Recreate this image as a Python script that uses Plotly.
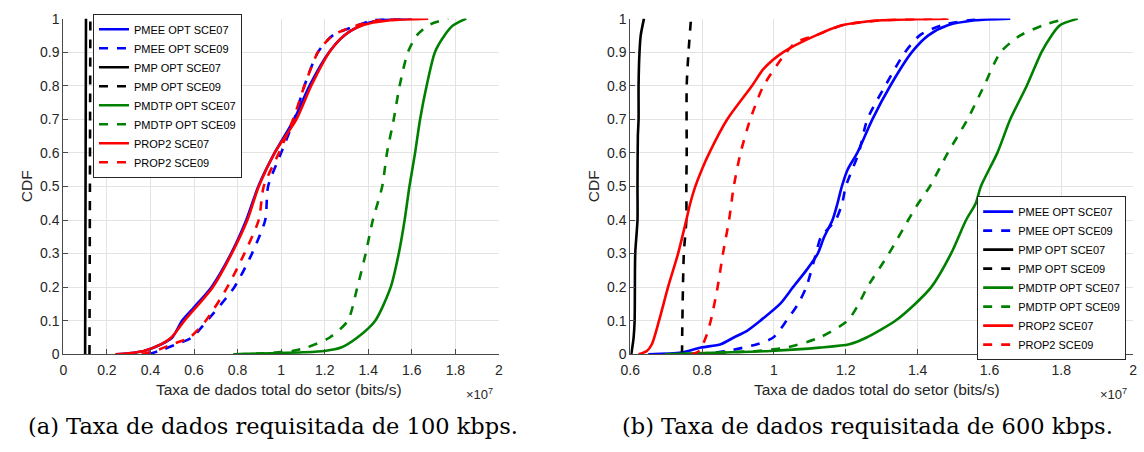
import plotly.graph_objects as go

# ---------------- data (x in units of 1e7 bits/s, y = CDF) ----------------
# (a) 100 kbps
a_pmee07_x = [0.24, 0.30, 0.37, 0.45, 0.50, 0.545, 0.60, 0.68, 0.77, 0.84, 0.895, 0.97, 1.06, 1.13, 1.22, 1.29, 1.37, 1.45, 1.60]
a_pmee07_y = [0.0, 0.003, 0.01, 0.03, 0.05, 0.10, 0.14, 0.20, 0.30, 0.40, 0.50, 0.60, 0.70, 0.80, 0.90, 0.95, 0.98, 0.995, 1.0]
a_pmee09_x = [0.39, 0.44, 0.52, 0.59, 0.66, 0.785, 0.866, 0.927, 0.94, 1.00, 1.06, 1.107, 1.169, 1.237, 1.35, 1.42, 1.55]
a_pmee09_y = [0.0, 0.01, 0.03, 0.05, 0.10, 0.20, 0.30, 0.40, 0.50, 0.60, 0.70, 0.80, 0.90, 0.95, 0.98, 0.995, 1.0]
a_pmp07_x = [0.100, 0.102, 0.104]
a_pmp07_y = [0.0, 0.5, 1.0]
a_pmp09_x = [0.120, 0.122, 0.124]
a_pmp09_y = [0.0, 0.5, 1.0]
a_pmdtp07_x = [0.78, 0.95, 1.10, 1.20, 1.275, 1.35, 1.432, 1.503, 1.54, 1.567, 1.589, 1.615, 1.638, 1.668, 1.706, 1.75, 1.79, 1.85]
a_pmdtp07_y = [0.0, 0.003, 0.006, 0.01, 0.02, 0.05, 0.10, 0.20, 0.30, 0.40, 0.50, 0.60, 0.70, 0.80, 0.90, 0.95, 0.98, 1.0]
a_pmdtp09_x = [0.80, 0.95, 1.05, 1.117, 1.223, 1.306, 1.35, 1.388, 1.421, 1.464, 1.486, 1.517, 1.544, 1.582, 1.623, 1.676, 1.767]
a_pmdtp09_y = [0.0, 0.004, 0.01, 0.02, 0.05, 0.10, 0.20, 0.30, 0.40, 0.50, 0.60, 0.70, 0.80, 0.90, 0.95, 0.98, 1.0]
a_prop07_x = [0.24, 0.30, 0.37, 0.45, 0.496, 0.556, 0.686, 0.773, 0.845, 0.897, 0.97, 1.07, 1.138, 1.221, 1.29, 1.373, 1.50, 1.675]
a_prop07_y = [0.0, 0.003, 0.01, 0.03, 0.05, 0.10, 0.20, 0.30, 0.40, 0.50, 0.60, 0.70, 0.80, 0.90, 0.95, 0.98, 0.995, 1.0]
a_prop09_x = [0.36, 0.42, 0.50, 0.58, 0.654, 0.753, 0.831, 0.897, 0.92, 0.99, 1.055, 1.107, 1.169, 1.237, 1.35, 1.45, 1.60]
a_prop09_y = [0.0, 0.01, 0.03, 0.05, 0.10, 0.20, 0.30, 0.40, 0.50, 0.60, 0.70, 0.80, 0.90, 0.95, 0.98, 0.995, 1.0]

# (b) 600 kbps
b_pmee07_x = [0.65, 0.742, 0.797, 0.852, 0.888, 0.925, 0.962, 1.017, 1.053, 1.09, 1.122, 1.14, 1.163, 1.177, 1.189, 1.205, 1.232, 1.274, 1.324, 1.384, 1.43, 1.484, 1.56, 1.658]
b_pmee07_y = [0.0, 0.005, 0.02, 0.03, 0.05, 0.07, 0.10, 0.15, 0.20, 0.25, 0.30, 0.35, 0.40, 0.45, 0.50, 0.55, 0.60, 0.70, 0.80, 0.90, 0.95, 0.98, 0.995, 1.0]
b_pmee09_x = [0.788, 0.87, 0.953, 0.998, 1.035, 1.067, 1.09, 1.117, 1.131, 1.172, 1.19, 1.20, 1.236, 1.26, 1.31, 1.365, 1.406, 1.466, 1.576]
b_pmee09_y = [0.0, 0.01, 0.03, 0.05, 0.10, 0.15, 0.20, 0.30, 0.35, 0.40, 0.45, 0.50, 0.60, 0.70, 0.80, 0.90, 0.95, 0.98, 1.0]
b_pmp07_x = [0.6027, 0.6092, 0.612, 0.6137, 0.620, 0.620, 0.621, 0.623, 0.623, 0.6256, 0.629, 0.638]
b_pmp07_y = [0.0, 0.05, 0.10, 0.30, 0.40, 0.50, 0.65, 0.70, 0.80, 0.90, 0.95, 1.0]
b_pmp09_x = [0.744, 0.745, 0.749, 0.756, 0.756, 0.757, 0.757, 0.762, 0.769]
b_pmp09_y = [0.0, 0.10, 0.30, 0.40, 0.50, 0.60, 0.80, 0.90, 1.0]
b_pmdtp07_x = [0.696, 0.852, 0.99, 1.127, 1.21, 1.258, 1.338, 1.393, 1.438, 1.493, 1.535, 1.562, 1.576, 1.622, 1.658, 1.704, 1.745, 1.773, 1.796, 1.846]
b_pmdtp07_y = [0.0, 0.005, 0.01, 0.02, 0.03, 0.05, 0.10, 0.15, 0.20, 0.30, 0.40, 0.45, 0.50, 0.60, 0.70, 0.80, 0.90, 0.95, 0.98, 1.0]
b_pmdtp09_x = [0.742, 0.85, 0.953, 1.035, 1.127, 1.205, 1.236, 1.26, 1.32, 1.374, 1.402, 1.434, 1.484, 1.539, 1.585, 1.631, 1.686, 1.75, 1.814]
b_pmdtp09_y = [0.0, 0.005, 0.01, 0.02, 0.05, 0.10, 0.15, 0.20, 0.30, 0.40, 0.45, 0.50, 0.60, 0.70, 0.80, 0.90, 0.95, 0.98, 1.0]
b_prop07_x = [0.623, 0.646, 0.66, 0.68, 0.705, 0.733, 0.756, 0.767, 0.781, 0.799, 0.82, 0.87, 0.939, 0.971, 1.026, 1.117, 1.19, 1.30, 1.486]
b_prop07_y = [0.0, 0.01, 0.03, 0.10, 0.20, 0.30, 0.40, 0.45, 0.50, 0.55, 0.60, 0.70, 0.80, 0.85, 0.90, 0.95, 0.98, 0.995, 1.0]
b_prop09_x = [0.77, 0.792, 0.81, 0.824, 0.843, 0.858, 0.875, 0.888, 0.907, 0.934, 0.971, 1.035, 1.062, 1.117, 1.19, 1.30, 1.48]
b_prop09_y = [0.0, 0.01, 0.05, 0.10, 0.20, 0.30, 0.40, 0.50, 0.60, 0.70, 0.80, 0.90, 0.93, 0.95, 0.98, 0.995, 1.0]

series_names = ["PMEE OPT SCE07", "PMEE OPT SCE09", "PMP OPT SCE07", "PMP OPT SCE09",
                "PMDTP OPT SCE07", "PMDTP OPT SCE09", "PROP2 SCE07", "PROP2 SCE09"]
series_colors = ["#0000ff", "#0000ff", "#000000", "#000000",
                 "#008000", "#008000", "#ff0000", "#ff0000"]
series_dash = ["solid", "dash", "solid", "dash", "solid", "dash", "solid", "dash"]

panel_a = [(a_pmee07_x, a_pmee07_y), (a_pmee09_x, a_pmee09_y), (a_pmp07_x, a_pmp07_y), (a_pmp09_x, a_pmp09_y),
           (a_pmdtp07_x, a_pmdtp07_y), (a_pmdtp09_x, a_pmdtp09_y), (a_prop07_x, a_prop07_y), (a_prop09_x, a_prop09_y)]
panel_b = [(b_pmee07_x, b_pmee07_y), (b_pmee09_x, b_pmee09_y), (b_pmp07_x, b_pmp07_y), (b_pmp09_x, b_pmp09_y),
           (b_pmdtp07_x, b_pmdtp07_y), (b_pmdtp09_x, b_pmdtp09_y), (b_prop07_x, b_prop07_y), (b_prop09_x, b_prop09_y)]

a_xticks = [0, 0.2, 0.4, 0.6, 0.8, 1, 1.2, 1.4, 1.6, 1.8, 2]
b_xticks = [0.6, 0.8, 1, 1.2, 1.4, 1.6, 1.8, 2]
yticks = [0, 0.1, 0.2, 0.3, 0.4, 0.5, 0.6, 0.7, 0.8, 0.9, 1]

fig = go.Figure()
for i, (xs, ys) in enumerate(panel_a):
    fig.add_trace(go.Scatter(x=xs, y=ys, mode="lines", name=series_names[i],
                             line=dict(color=series_colors[i], dash=series_dash[i], width=2.6,
                                       shape="spline", smoothing=0.7),
                             xaxis="x", yaxis="y", legend="legend"))
for i, (xs, ys) in enumerate(panel_b):
    fig.add_trace(go.Scatter(x=xs, y=ys, mode="lines", name=series_names[i],
                             line=dict(color=series_colors[i], dash=series_dash[i], width=2.6,
                                       shape="spline", smoothing=0.7),
                             xaxis="x2", yaxis="y2", legend="legend2"))

W, H = 1144, 452
def px(x):
    return x / W
def py(y):
    return (H - y) / H

FAM = "Liberation Sans, Arial, sans-serif"
tickfont = dict(family=FAM, size=14, color="#262626")
axis_common = dict(showgrid=True, gridcolor="#e3e3e3", gridwidth=1, showline=True, linecolor="#4a4a4a",
                   linewidth=1, ticks="inside", ticklen=5, tickcolor="#4a4a4a", tickfont=tickfont,
                   zeroline=False, mirror=False)

legend_font = dict(family=FAM, size=11, color="#000000")
fig.update_layout(
    width=W, height=H, margin=dict(l=0, r=0, t=0, b=0),
    paper_bgcolor="white", plot_bgcolor="white",
    font=dict(family=FAM, size=12, color="#262626"),
    xaxis=dict(domain=[px(54), px(495)], range=[0, 2], tickvals=a_xticks, ticklabelstandoff=3,
               ticktext=[f"{v:g}" for v in a_xticks], anchor="y", **axis_common),
    yaxis=dict(domain=[py(359), py(11)], range=[0, 1], tickvals=yticks,
               ticktext=[f"{v:g}" for v in yticks], anchor="x", **axis_common),
    xaxis2=dict(domain=[px(628), px(1137)], range=[0.6, 2], tickvals=b_xticks, ticklabelstandoff=3,
                ticktext=[f"{v:g}" for v in b_xticks], anchor="y2", **axis_common),
    yaxis2=dict(domain=[py(359), py(11)], range=[0, 1], tickvals=yticks,
                ticktext=[f"{v:g}" for v in yticks], anchor="x2", **axis_common),
    legend=dict(x=px(84), y=py(6), xanchor="left", yanchor="top", bgcolor="white",
                bordercolor="#262626", borderwidth=1, font=legend_font,
                tracegroupgap=0, itemwidth=30),
    legend2=dict(x=px(1130), y=py(365), xanchor="right", yanchor="bottom", bgcolor="white",
                 bordercolor="#262626", borderwidth=1, font=legend_font,
                 tracegroupgap=0, itemwidth=30),
    showlegend=True,
)

ann_font = dict(family=FAM, size=15.5, color="#262626")
sci_font = dict(family=FAM, size=13, color="#262626")
cap_font = dict(family="DejaVu Serif, serif", size=22.5, color="#000000")
def ann(text, x, y, font, xanchor="center", **kw):
    return dict(text=text, x=px(x), y=py(y), xref="paper", yref="paper", xanchor=xanchor,
                yanchor="middle", showarrow=False, font=font, **kw)

annotations = [
    ann("Taxa de dados total do setor (bits/s)", 272, 396, ann_font),
    ann("Taxa de dados total do setor (bits/s)", 878, 396, ann_font),
    ann("×10<sup>7</sup>", 491, 400, sci_font, xanchor="right"),
    ann("×10<sup>7</sup>", 1133, 400, sci_font, xanchor="right"),
    ann("CDF", 17, 185, ann_font, textangle=-90),
    ann("CDF", 591, 185, ann_font, textangle=-90),
    ann("(a) Taxa de dados requisitada de 100 kbps.", 266, 433, cap_font),
    ann("(b) Taxa de dados requisitada de 600 kbps.", 868, 433, cap_font),
]
fig.update_layout(annotations=annotations)

fig.write_html("out.html")
